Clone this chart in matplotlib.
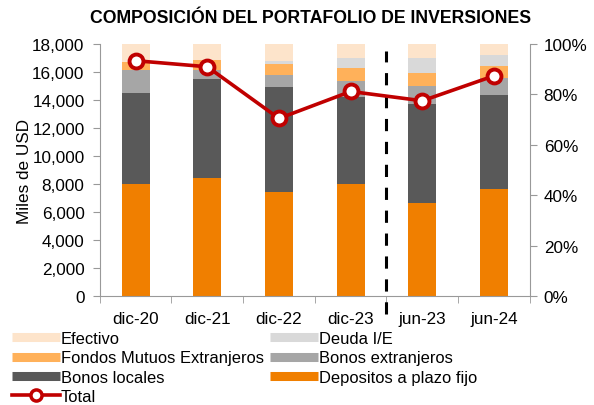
import numpy as np
import matplotlib
matplotlib.use("Agg")
import matplotlib.pyplot as plt
from matplotlib.lines import Line2D
from matplotlib.ticker import FuncFormatter, PercentFormatter

plt.rcParams['font.family'] = ['Liberation Sans', 'DejaVu Sans']

# data (miles de USD)
periodos = ['dic-20', 'dic-21', 'dic-22', 'dic-23', 'jun-23', 'jun-24']
depositos = [8000, 8430, 7450, 8000, 6640, 7640]
bonos_locales = [6500, 7070, 7500, 6240, 7070, 6740]
bonos_ext = [1640, 660, 860, 1140, 1310, 1170]
fondos_mutuos = [560, 700, 780, 930, 930, 900]
deuda_ie = [0, 0, 200, 710, 1070, 760]
efectivo = [1300, 1140, 1210, 980, 980, 790]
total_pct = [93.4, 91.0, 70.5, 81.2, 77.5, 87.4]

series = [
    ('Depositos a plazo fijo', depositos, '#F07F00'),
    ('Bonos locales', bonos_locales, '#595959'),
    ('Bonos extranjeros', bonos_ext, '#A6A6A6'),
    ('Fondos Mutuos Extranjeros', fondos_mutuos, '#FFB15A'),
    ('Deuda I/E', deuda_ie, '#D9D9D9'),
    ('Efectivo', efectivo, '#FDE4CB'),
]

fig = plt.figure(figsize=(5.94, 4.06), dpi=100)
ax = fig.add_axes([0.168, 0.268, 0.724, 0.621])
x = np.arange(len(periodos))
bottom = np.zeros(len(periodos))
colors = {}
for name, vals, col in series:
    ax.bar(x, vals, width=0.39, bottom=bottom, color=col, edgecolor='none', zorder=2)
    bottom += np.array(vals)
    colors[name] = col

fs = 12.3
ax.set_xlim(-0.5, len(periodos) - 0.5)
ax.set_ylim(0, 18000)
ax.set_yticks(np.arange(0, 18001, 2000))
ax.yaxis.set_major_formatter(FuncFormatter(lambda v, p: f'{int(v):,}'))
ax.set_xticks(x)
ax.set_xticklabels(periodos)
ax.set_xticks(np.arange(-0.5, len(periodos)), minor=True)
ax.tick_params(axis='x', which='major', length=0, labelsize=fs, pad=11)
ax.tick_params(axis='x', which='minor', length=5, color='#999999')
ax.tick_params(axis='y', length=5, color='#999999', labelsize=fs, pad=6)
ax.set_ylabel('Miles de USD', fontsize=fs, labelpad=0)
for s in ['top', 'right']:
    ax.spines[s].set_visible(False)
for s in ['left', 'bottom']:
    ax.spines[s].set_color('#999999')

# separator between annual and semi-annual data
ax.plot([3.5, 3.5], [-1300, 17500], color='black', lw=2.2, ls=(0, (4, 3.5)), clip_on=False, zorder=3)

ax2 = ax.twinx()
ax2.set_ylim(0, 100)
ax2.set_yticks(np.arange(0, 101, 20))
ax2.yaxis.set_major_formatter(PercentFormatter(decimals=0))
ax2.tick_params(axis='y', length=5, color='#999999', labelsize=fs, pad=5)
for s in ['top', 'left', 'bottom']:
    ax2.spines[s].set_visible(False)
ax2.spines['right'].set_color('#999999')
ax2.plot(x, total_pct, color='#C00000', lw=2.6, marker='o', ms=10,
         mfc='white', mec='#C00000', mew=2.8, zorder=5)

fig.suptitle('COMPOSICIÓN DEL PORTAFOLIO DE INVERSIONES', x=0.522, y=0.975,
             fontsize=12.7, fontweight='bold')

def patch_handle(col):
    return Line2D([0], [0], color=col, lw=6.5, solid_capstyle='butt')

handles = [
    patch_handle(colors['Efectivo']),
    patch_handle(colors['Fondos Mutuos Extranjeros']),
    patch_handle(colors['Bonos locales']),
    Line2D([0], [0], color='#C00000', lw=2.6, marker='o', ms=8, mfc='white', mec='#C00000', mew=2.5),
    patch_handle(colors['Deuda I/E']),
    patch_handle(colors['Bonos extranjeros']),
    patch_handle(colors['Depositos a plazo fijo']),
]
labels = ['Efectivo', 'Fondos Mutuos Extranjeros', 'Bonos locales', 'Total',
          'Deuda I/E', 'Bonos extranjeros', 'Depositos a plazo fijo']
fig.legend(handles, labels, ncol=2, loc='upper left', bbox_to_anchor=(0.003, 0.206),
           frameon=False, fontsize=11.9, handlelength=2.9, handletextpad=0.08,
           labelspacing=0.25, columnspacing=0.35, borderpad=0.1)

fig.savefig('out.png', dpi=100)
